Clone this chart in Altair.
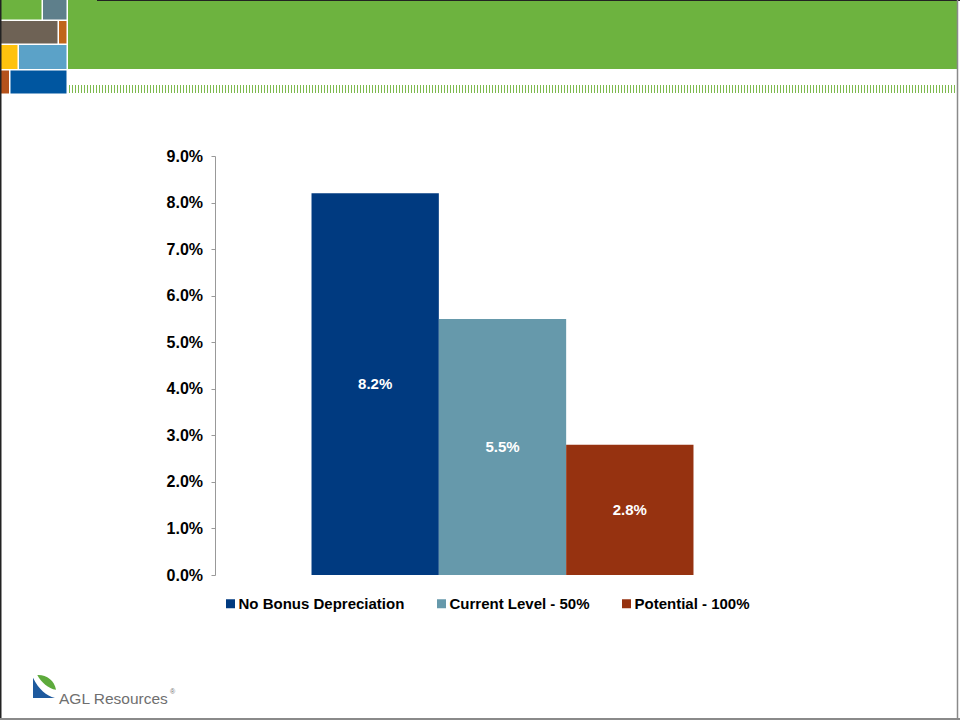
import altair as alt
import pandas as pd

# ---- chart data ----
categories = ["No Bonus Depreciation", "Current Level - 50%", "Potential - 100%"]
values = [8.2, 5.5, 2.8]
colors = ["#003A80", "#6699AB", "#963210"]
y_ticks = [0, 1, 2, 3, 4, 5, 6, 7, 8, 9]

FONT = "Liberation Sans"

df = pd.DataFrame({"cat": categories, "value": values})

# plot-area origin on the page (used only for decorative page furniture)
OX, OY = 215, 156
W, H = 575, 419

one = pd.DataFrame({"k": [0]})


def box(x0, y0, x1, y1, color):
    return alt.Chart(one).mark_rect(color=color).encode(
        x=alt.value(x0 - OX), x2=alt.value(x1 - OX),
        y=alt.value(y0 - OY), y2=alt.value(y1 - OY))


def hline(x0, x1, y, color, width, dash=None):
    kw = dict(color=color, strokeWidth=width)
    if dash:
        kw["strokeDash"] = dash
    return alt.Chart(one).mark_rule(**kw).encode(
        x=alt.value(x0 - OX), x2=alt.value(x1 - OX), y=alt.value(y - OY))


def vline(x, y0, y1, color, width):
    return alt.Chart(one).mark_rule(color=color, strokeWidth=width).encode(
        x=alt.value(x - OX), y=alt.value(y0 - OY), y2=alt.value(y1 - OY))


deco = [
    box(68, 0, 957, 69, "#6DB33F"),
    box(0, 0, 41.5, 19.5, "#6DB33F"),
    box(43, 0, 66.5, 19.5, "#5E7F8B"),
    box(0, 21, 57.5, 43.5, "#6E6255"),
    box(59, 21, 66.5, 43.5, "#C0661A"),
    box(0, 45, 17.5, 69, "#FFC20E"),
    box(19, 45, 66.5, 69, "#5BA2C8"),
    box(0, 70.5, 9, 93.5, "#B5521B"),
    box(10.5, 70.5, 66.5, 93.5, "#0056A0"),
    hline(69, 955, 89, "#7DB94E", 8, [1, 2]),
    vline(0.75, 0, 720, "#222222", 1.5),
    hline(97, 960, 0.5, "#222222", 1),
    vline(957.5, 0, 720, "#8A8A8A", 1.5),
    hline(0, 960, 719, "#8A8A8A", 2),
]

# AGL logo (leaf mark + wordmark)
blue_leaf = "M-1,-0.85 L-1,1 L1,1 C0.2,0.75 -0.45,0.25 -1,-0.85 Z"
green_leaf = "M-0.7,-1 C0.1,-1.05 0.85,-0.55 1,0.35 C0.3,0.25 -0.35,-0.35 -0.7,-1 Z"
logo = [
    alt.Chart(one).mark_point(shape=blue_leaf, filled=True, size=484, opacity=1,
                              color="#1E5A9E", strokeWidth=0).encode(
        x=alt.value(44 - OX), y=alt.value(687 - OY)),
    alt.Chart(one).mark_point(shape=green_leaf, filled=True, size=484, opacity=1,
                              color="#5DAA3C", strokeWidth=0).encode(
        x=alt.value(45 - OX), y=alt.value(686 - OY)),
    alt.Chart(one).mark_text(text="AGL Resources", font=FONT, fontSize=15.5,
                             color="#6F6F6F", align="left", baseline="alphabetic").encode(
        x=alt.value(59 - OX), y=alt.value(704 - OY)),
    alt.Chart(one).mark_text(text="®", font=FONT, fontSize=7,
                             color="#6F6F6F", align="left", baseline="alphabetic").encode(
        x=alt.value(170 - OX), y=alt.value(694 - OY)),
]

x_enc = alt.X("cat:N", sort=categories, axis=None,
              scale=alt.Scale(paddingInner=0, paddingOuter=0.758))
y_scale = alt.Scale(domain=[0, 9], nice=False, zero=True)

bars = alt.Chart(df).mark_bar().encode(
    x=x_enc,
    y=alt.Y("value:Q", scale=y_scale, title=None,
            axis=alt.Axis(values=y_ticks,
                          labelExpr="format(datum.value, '.1f') + '%'",
                          grid=False, domainColor="#999999", tickColor="#999999",
                          tickSize=4, labelPadding=8.5, labelFont=FONT,
                          labelFontSize=16, labelFontWeight="bold",
                          labelColor="#000000")),
    color=alt.Color("cat:N", sort=categories,
                    scale=alt.Scale(domain=categories, range=colors),
                    legend=alt.Legend(title=None, orient="none", direction="horizontal",
                                      legendX=8, legendY=440, symbolType="square",
                                      symbolSize=81, symbolStrokeWidth=0,
                                      labelFont=FONT, labelFontSize=15,
                                      labelFontWeight="bold", labelColor="#000000",
                                      columnPadding=29, labelOffset=0.5, padding=0,
                                      labelLimit=300)),
)

labels = alt.Chart(df).transform_calculate(
    mid="datum.value / 2",
    label="format(datum.value, '.1f') + '%'",
).mark_text(color="white", font=FONT, fontSize=15, fontWeight="bold").encode(
    x=x_enc,
    y=alt.Y("mid:Q", scale=y_scale),
    text="label:N",
)

chart = alt.layer(*deco, *logo, bars, labels).properties(
    width=W, height=H,
    padding={"left": OX, "top": OY, "right": 960 - OX - W, "bottom": 720 - OY - H},
    autosize=alt.AutoSizeParams(type="none"),
    background="white",
).configure_view(stroke=None)

chart.save("out.html", embed_options={"renderer": "svg", "actions": False})
